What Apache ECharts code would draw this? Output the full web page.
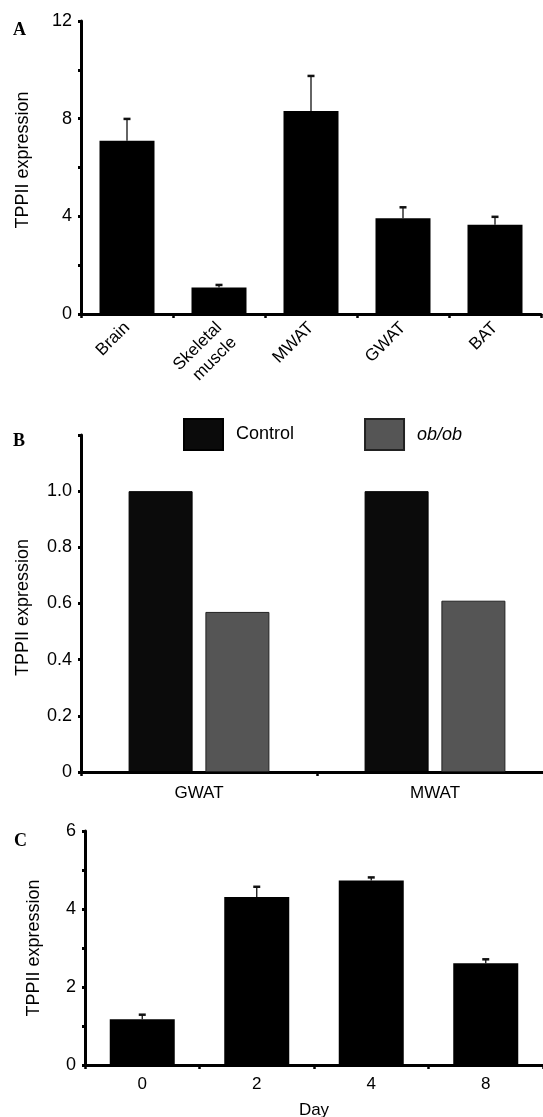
<!DOCTYPE html>
<html>
<head>
<meta charset="utf-8">
<style>
html,body{margin:0;padding:0;background:#fff;}
#chart{width:543px;height:1117px;}
</style>
<script src="https://cdn.jsdelivr.net/npm/echarts@6/dist/echarts.min.js"></script>
</head>
<body>
<div id="chart"></div>
<script>
// Panel A
const catsA = ['Brain', 'Skeletal\nmuscle', 'MWAT', 'GWAT', 'BAT'];
const meanA = [7.1, 1.09, 8.31, 3.92, 3.66];
const errA = [0.89, 0.1, 1.44, 0.45, 0.32];
const ticksA = [0, 4, 8, 12];
// Panel B
const catsB = ['GWAT', 'MWAT'];
const controlB = [1.0, 1.0];
const obobB = [0.57, 0.61];
const ticksB = ['0', '0.2', '0.4', '0.6', '0.8', '1.0'];
// Panel C
const catsC = ['0', '2', '4', '8'];
const meanC = [1.17, 4.31, 4.73, 2.61];
const errC = [0.12, 0.26, 0.08, 0.10];
const ticksC = [0, 2, 4, 6];

const FONT = 'Liberation Sans';
const chart = echarts.init(document.getElementById('chart'));

function errData(mean, err) {
  return mean.map((m, i) => [i, m, m + err[i]]);
}
function errRender(params, api) {
  const i = api.value(0);
  const p0 = api.coord([i, api.value(1)]);
  const p1 = api.coord([i, api.value(2)]);
  return {
    type: 'group',
    children: [
      { type: 'line', shape: { x1: p0[0], y1: p0[1], x2: p1[0], y2: p1[1] }, style: { stroke: '#111', lineWidth: 1.3 } },
      { type: 'line', shape: { x1: p1[0] - 3.5, y1: p1[1], x2: p1[0] + 3.5, y2: p1[1] }, style: { stroke: '#111', lineWidth: 2.5 } }
    ]
  };
}

const axisLine = { show: true, lineStyle: { color: '#000', width: 3 } };
const yTick = { show: true, length: 3, inside: false, lineStyle: { color: '#000', width: 3 } };
const xTick = { show: true, length: 4, inside: false, lineStyle: { color: '#000', width: 2.5 } };
const tickLabel = { color: '#000', fontFamily: FONT, fontSize: 18 };
const nameStyle = { color: '#000', fontFamily: FONT, fontSize: 18 };

const option = {
  animation: false,
  backgroundColor: '#fff',
  textStyle: { fontFamily: FONT },
  grid: [
    { left: 81, top: 21, width: 460, height: 293, containLabel: false, outerBoundsMode: 'none' },
    { left: 81, top: 435, width: 472, height: 337, containLabel: false, outerBoundsMode: 'none' },
    { left: 85, top: 831, width: 458, height: 234, containLabel: false, outerBoundsMode: 'none' }
  ],
  legend: {
    data: ['Control', 'ob/ob'],
    left: 183, top: 418, padding: 0,
    itemWidth: 39, itemHeight: 31, itemGap: 70,
    icon: 'rect',
    formatter: n => n === 'ob/ob' ? '{i|ob/ob}' : n,
    textStyle: {
      color: '#000', fontFamily: FONT, fontSize: 18, padding: [0, 0, 0, 8],
      rich: { i: { fontStyle: 'italic', fontFamily: FONT, fontSize: 18, color: '#000' } }
    }
  },
  graphic: [
    { type: 'text', left: 13, top: 21, style: { text: 'A', font: 'bold 18px "Liberation Serif"', fill: '#000' } },
    { type: 'text', left: 13, top: 432, style: { text: 'B', font: 'bold 18px "Liberation Serif"', fill: '#000' } },
    { type: 'text', left: 14, top: 832, style: { text: 'C', font: 'bold 18px "Liberation Serif"', fill: '#000' } }
  ],
  xAxis: [
    {
      gridIndex: 0, type: 'category', data: catsA,
      axisLine, axisTick: xTick, splitLine: { show: false },
      axisLabel: {
        color: '#000', fontFamily: FONT, fontSize: 17, rotate: 45, margin: 11, interval: 0, lineHeight: 21,
        formatter: v => v.indexOf('\n') >= 0 ? ' \n' + v : v
      }
    },
    {
      gridIndex: 1, type: 'category', data: catsB,
      axisLine, axisTick: xTick, splitLine: { show: false },
      axisLabel: { color: '#000', fontFamily: FONT, fontSize: 17, margin: 13, interval: 0 }
    },
    {
      gridIndex: 2, type: 'category', data: catsC,
      axisLine, axisTick: xTick, splitLine: { show: false },
      name: 'Day', nameLocation: 'middle', nameGap: 37,
      nameTextStyle: { color: '#000', fontFamily: FONT, fontSize: 17 },
      axisLabel: { color: '#000', fontFamily: FONT, fontSize: 17, margin: 11, interval: 0 }
    }
  ],
  yAxis: [
    {
      gridIndex: 0, type: 'value', min: 0, max: 12, interval: 2,
      axisLine, axisTick: yTick, splitLine: { show: false },
      axisLabel: Object.assign({ margin: 9, formatter: v => ticksA.includes(v) ? String(v) : '' }, tickLabel),
      name: 'TPPII expression', nameLocation: 'middle', nameGap: 49,
      nameTextStyle: Object.assign({ padding: [0, 0, 0, 15] }, nameStyle)
    },
    {
      gridIndex: 1, type: 'value', min: 0, max: 1.2, interval: 0.2,
      axisLine, axisTick: yTick, splitLine: { show: false },
      axisLabel: Object.assign({ margin: 9, formatter: v => { const k = Math.round(v * 5); return k < ticksB.length ? ticksB[k] : ''; } }, tickLabel),
      name: 'TPPII expression', nameLocation: 'middle', nameGap: 49,
      nameTextStyle: Object.assign({ padding: [0, 8, 0, 0] }, nameStyle)
    },
    {
      gridIndex: 2, type: 'value', min: 0, max: 6, interval: 1,
      axisLine, axisTick: yTick, splitLine: { show: false },
      axisLabel: Object.assign({ margin: 9, formatter: v => ticksC.includes(v) ? String(v) : '' }, tickLabel),
      name: 'TPPII expression', nameLocation: 'middle', nameGap: 42,
      nameTextStyle: nameStyle
    }
  ],
  series: [
    {
      type: 'bar', xAxisIndex: 0, yAxisIndex: 0, data: meanA, barWidth: 55,
      itemStyle: { color: '#000' }
    },
    {
      type: 'custom', xAxisIndex: 0, yAxisIndex: 0, data: errData(meanA, errA),
      encode: { x: 0, y: [1, 2] }, renderItem: errRender, z: 5, clip: false
    },
    {
      name: 'Control', type: 'bar', xAxisIndex: 1, yAxisIndex: 1, data: controlB, barWidth: 64, barGap: '20%',
      itemStyle: { color: '#0b0b0b', borderColor: '#000', borderWidth: 1 }
    },
    {
      name: 'ob/ob', type: 'bar', xAxisIndex: 1, yAxisIndex: 1, data: obobB, barWidth: 64, barGap: '20%',
      itemStyle: { color: '#555555', borderColor: '#222', borderWidth: 1 }
    },
    {
      type: 'bar', xAxisIndex: 2, yAxisIndex: 2, data: meanC, barWidth: 65,
      itemStyle: { color: '#000' }
    },
    {
      type: 'custom', xAxisIndex: 2, yAxisIndex: 2, data: errData(meanC, errC),
      encode: { x: 0, y: [1, 2] }, renderItem: errRender, z: 5, clip: false
    }
  ]
};
chart.setOption(option);
</script>
</body>
</html>
